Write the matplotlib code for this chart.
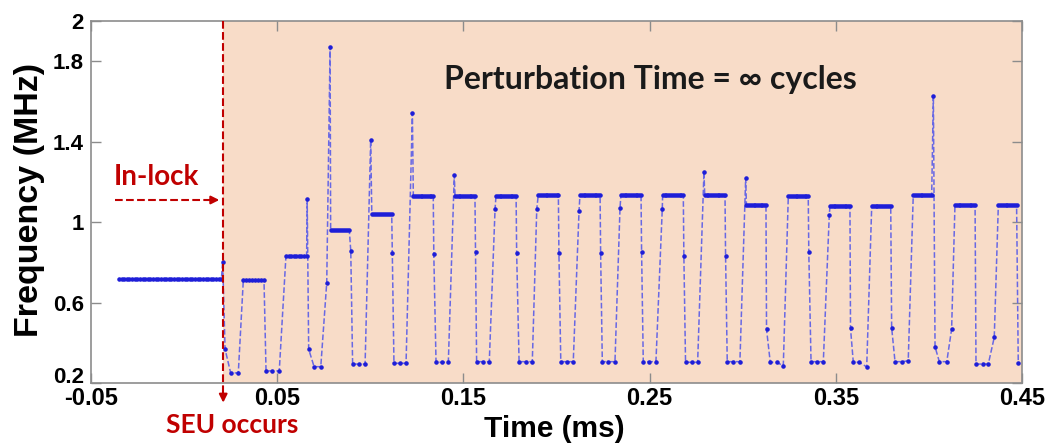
import numpy as np
import matplotlib
matplotlib.use("Agg")
import matplotlib.pyplot as plt
from matplotlib.transforms import blended_transform_factory, ScaledTranslation

# flat runs of the measured frequency: start (ms), end (ms), level (MHz), samples
plat_start = [-0.035, 0.0318, 0.0547, 0.0787, 0.1008, 0.1231, 0.1455, 0.1675, 0.1902, 0.2126,
              0.2346, 0.2570, 0.2796, 0.3020, 0.3245, 0.3469, 0.3693, 0.3916, 0.4140, 0.4373]
plat_end = [0.0200, 0.0429, 0.0658, 0.0887, 0.1115, 0.1338, 0.1562, 0.1783, 0.2010, 0.2234,
            0.2454, 0.2681, 0.2905, 0.3125, 0.3352, 0.3576, 0.3795, 0.4015, 0.4248, 0.4471]
plat_level = [0.715, 0.712, 0.832, 0.961, 1.040, 1.130, 1.130, 1.130, 1.135, 1.135,
              1.135, 1.135, 1.135, 1.085, 1.130, 1.082, 1.082, 1.135, 1.085, 1.085]
plat_n = [40, 8, 9, 10, 11, 12, 12, 12, 12, 12, 12, 12, 12, 12, 12, 12, 11, 11, 12, 11]

# single samples between the flat runs (edges, spikes, low states)
single_t = [0.0207, 0.0220, 0.0250, 0.0291, 0.0440, 0.0474, 0.0511, 0.0661, 0.0669, 0.0698,
            0.0734, 0.0766, 0.0784, 0.0895, 0.0905, 0.0938, 0.0972, 0.1002, 0.1118, 0.1127,
            0.1160, 0.1192, 0.1226, 0.1341, 0.1353, 0.1383, 0.1419, 0.1451, 0.1565, 0.1571,
            0.1607, 0.1639, 0.1670, 0.1786, 0.1799, 0.1835, 0.1870, 0.1894, 0.2013, 0.2023,
            0.2055, 0.2090, 0.2121, 0.2237, 0.2246, 0.2278, 0.2314, 0.2341, 0.2457, 0.2466,
            0.2498, 0.2534, 0.2568, 0.2684, 0.2693, 0.2726, 0.2758, 0.2792, 0.2908, 0.2917,
            0.2950, 0.2985, 0.3016, 0.3128, 0.3148, 0.3183, 0.3218, 0.3355, 0.3367, 0.3401,
            0.3433, 0.3465, 0.3579, 0.3594, 0.3626, 0.3666, 0.3800, 0.3818, 0.3854, 0.3889,
            0.4024, 0.4033, 0.4056, 0.4096, 0.4122, 0.4253, 0.4289, 0.4319, 0.4351, 0.4480]
single_f = [0.800, 0.368, 0.250, 0.250, 0.260, 0.260, 0.260, 1.113, 0.368, 0.281,
            0.281, 0.699, 1.872, 0.858, 0.294, 0.294, 0.294, 1.408, 0.845, 0.298,
            0.298, 0.298, 1.541, 0.841, 0.303, 0.303, 0.303, 1.234, 0.850, 0.306,
            0.306, 0.306, 1.065, 0.845, 0.306, 0.306, 0.306, 1.065, 0.845, 0.306,
            0.306, 0.306, 1.055, 0.845, 0.306, 0.306, 0.306, 1.068, 0.850, 0.306,
            0.306, 0.306, 1.065, 0.833, 0.303, 0.303, 0.303, 1.251, 0.832, 0.306,
            0.306, 0.306, 1.218, 0.467, 0.303, 0.303, 0.285, 0.850, 0.306, 0.306,
            0.306, 1.035, 0.472, 0.303, 0.303, 0.280, 0.475, 0.306, 0.306, 0.310,
            1.629, 0.380, 0.306, 0.306, 0.467, 0.294, 0.294, 0.294, 0.427, 0.298]

seu_t = 0.021
x_ticks = [-0.05, 0.05, 0.15, 0.25, 0.35, 0.45]
x_labels = ["-0.05", "0.05", "0.15", "0.25", "0.35", "0.45"]
y_ticks = [0.2, 0.6, 1, 1.4, 1.8, 2]
y_labels = ["0.2", "0.6", "1", "1.4", "1.8", "2"]

t_all = list(single_t)
f_all = list(single_f)
for s, e, lv, n in zip(plat_start, plat_end, plat_level, plat_n):
    t_all += list(np.linspace(s, e, n))
    f_all += [lv] * n
order = np.argsort(t_all)
t_all = np.array(t_all)[order]
f_all = np.array(f_all)[order]

red = "#c00000"
ann_font = ["Lato", "DejaVu Sans"]
plt.rcParams["font.family"] = ["Liberation Sans", "DejaVu Sans"]

fig = plt.figure(figsize=(10.51, 4.46), dpi=100)
ax = fig.add_axes([0.0866, 0.1413, 0.8858, 0.8116])

ax.axvspan(seu_t, 0.45, color="#f8dcc8", zorder=0, lw=0)
ax.plot(t_all, f_all, ls="--", lw=1.1, color="#6868e4", marker=".", ms=4.5,
        mfc="#1e1ed8", mec="#1e1ed8", zorder=3)

ax.set_xlim(-0.05, 0.45)
ax.set_ylim(0.2, 2)
ax.set_xticks(x_ticks)
ax.set_xticklabels(x_labels)
ax.set_yticks(y_ticks)
ax.set_yticklabels(y_labels)
ax.tick_params(direction="in", length=7, width=1, color="#8c8c8c", top=True, right=True)
ax.tick_params(axis="x", labelsize=17, pad=3)
ax.tick_params(axis="y", labelsize=16, pad=5)
for lab in ax.get_xticklabels() + ax.get_yticklabels():
    lab.set_fontweight("bold")
# lift the bottom y label a little so it sits just above "-0.05"
lab0 = ax.get_yticklabels()[0]
lab0.set_transform(lab0.get_transform() + ScaledTranslation(0, 6 / 72, fig.dpi_scale_trans))
for sp in ax.spines.values():
    sp.set_color("#8c8c8c")
    sp.set_linewidth(1.2)

ax.set_xlabel("Time (ms)", fontsize=21.5, fontweight="bold", va="center")
ax.xaxis.set_label_coords(0.498, -0.126)
ax.set_ylabel("Frequency (MHz)", fontsize=24.5, fontweight="bold", va="center")
ax.yaxis.set_label_coords(-0.0666, 0.5055)

# SEU marker line running below the axes
trans = blended_transform_factory(ax.transData, ax.transAxes)
ax.plot([seu_t, seu_t], [1, -0.035], transform=trans, ls="--", lw=1.5, color=red,
        clip_on=False, zorder=4)
ax.annotate("", xy=(seu_t, -0.062), xytext=(seu_t, -0.03), xycoords=trans, textcoords=trans,
            arrowprops=dict(arrowstyle="-|>", color=red, lw=1.5, mutation_scale=12),
            annotation_clip=False)
ax.text(0.0257, -0.116, "SEU occurs", transform=trans, ha="center", va="center",
        color=red, fontsize=19, fontweight="bold", family=ann_font, clip_on=False)

# in-lock arrow
ax.plot([-0.0371, 0.016], [1.11, 1.11], ls="--", lw=1.5, color=red, zorder=4)
ax.annotate("", xy=(0.0204, 1.11), xytext=(0.012, 1.11),
            arrowprops=dict(arrowstyle="-|>", color=red, lw=1.5, mutation_scale=12))
ax.text(-0.0146, 1.224, "In-lock", ha="center", va="center", color=red,
        fontsize=20, fontweight="bold", family=ann_font)

ax.text(0.2502, 1.707, "Perturbation Time = \u221e cycles", ha="center", va="center",
        color="#1a1a1a", fontsize=23, fontweight="bold", family=ann_font)

fig.savefig("out.png", dpi=100)
